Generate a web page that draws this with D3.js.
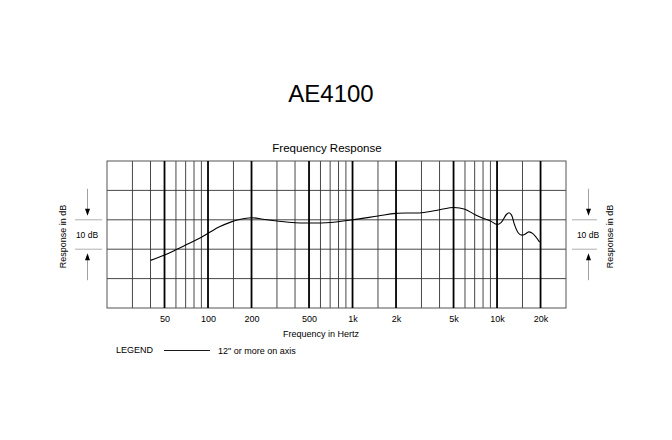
<html>
<head>
<title>AE4100 - frequency response</title>
<style type="text/css">
* {
  margin: 0;
  padding: 0;
}
body {
  background: #fff;
  font-family: "Liberation Sans", Arial, sans-serif;
}
text {
  fill: #000;
}
text.small {
  font-size: 9px;
}
</style>
<script type="text/javascript" src="https://cdn.jsdelivr.net/npm/d3@7"></script>
<script type="text/javascript">
// response curve, Hz / dB (0 dB = 1 kHz)
var freqs = [40, 50, 60, 70, 80, 90, 100, 120, 145, 165, 200, 240, 300, 400, 500, 700,
  1000, 1500, 2000, 3000, 4000, 5000, 6000, 7000, 8000, 9000, 10000, 10700, 11600, 12100,
  12600, 13200, 14000, 14700, 15500, 16600, 17700, 19700];
var levels = [-13.8, -12, -10.2, -8.6, -7.2, -5.9, -4.6, -2.4, -0.7, 0.1, 0.7, 0.2, -0.4, -1.0,
  -1.1, -0.9, 0, 1.3, 2.2, 2.4, 3.4, 4.2, 3.6, 1.8, 0.5, -0.4, -1.6, -0.9, 1.8, 2.4,
  1.6, -1.6, -4.4, -5.2, -5.0, -4.1, -4.7, -7.6];

// grid
var minorFreqs = [30, 40, 60, 70, 80, 90, 150, 300, 400, 600, 700, 800, 900, 1500, 3000, 4000,
  6000, 7000, 8000, 9000, 15000];
var majorFreqs = [50, 100, 200, 500, 1000, 2000, 5000, 10000, 20000];
var majorLabels = ["50", "100", "200", "500", "1k", "2k", "5k", "10k", "20k"];
var dbLines = [10, 0, -10, -20];

window.onload = function() {
  var width = 672, height = 440;
  var left = 107, right = 566, top = 161, bottom = 308;

  var svg = d3.select("#chart")
    .append("svg")
    .attr("width", width)
    .attr("height", height);

  var x = d3.scaleLog().domain([20, 30000]).range([left, right]);
  var y = d3.scaleLinear().domain([-30, 20]).range([bottom, top]);

  svg.append("text")
    .attr("x", 331)
    .attr("y", 102)
    .attr("text-anchor", "middle")
    .style("font-size", "24px")
    .text("AE4100");

  svg.append("text")
    .attr("x", 327)
    .attr("y", 152)
    .attr("text-anchor", "middle")
    .style("font-size", "11.5px")
    .text("Frequency Response");

  var grid = svg.append("g");

  grid.selectAll("line.h")
    .data(dbLines)
    .enter().append("line")
    .attr("x1", left).attr("x2", right)
    .attr("y1", function(d) { return y(d); })
    .attr("y2", function(d) { return y(d); })
    .attr("stroke", "#333")
    .attr("stroke-width", 0.9);

  grid.selectAll("line.minor")
    .data(minorFreqs)
    .enter().append("line")
    .attr("x1", function(d) { return x(d); })
    .attr("x2", function(d) { return x(d); })
    .attr("y1", top).attr("y2", bottom)
    .attr("stroke", "#333")
    .attr("stroke-width", 0.9);

  grid.append("rect")
    .attr("x", left).attr("y", top)
    .attr("width", right - left).attr("height", bottom - top)
    .attr("fill", "none")
    .attr("stroke", "#555")
    .attr("stroke-width", 1);

  grid.selectAll("line.major")
    .data(majorFreqs)
    .enter().append("line")
    .attr("x1", function(d) { return x(d); })
    .attr("x2", function(d) { return x(d); })
    .attr("y1", top).attr("y2", bottom)
    .attr("stroke", "#000")
    .attr("stroke-width", 1.8);

  // frequency labels under the major lines
  var xAxis = d3.axisBottom(x)
    .tickValues(majorFreqs)
    .tickSize(0)
    .tickPadding(8)
    .tickFormat(function(d, i) { return majorLabels[i]; });

  var axisG = svg.append("g")
    .attr("transform", "translate(0," + bottom + ")")
    .call(xAxis);
  axisG.select(".domain").remove();
  axisG.selectAll("text")
    .style("font-family", "'Liberation Sans', Arial, sans-serif")
    .style("font-size", "9px")
    .attr("fill", "#000");

  svg.append("text")
    .attr("class", "small")
    .attr("x", 321)
    .attr("y", 337)
    .attr("text-anchor", "middle")
    .text("Frequency in Hertz");

  // curve
  var line = d3.line()
    .x(function(d, i) { return x(freqs[i]); })
    .y(function(d) { return y(d); })
    .curve(d3.curveCatmullRom.alpha(0.5));

  svg.append("path")
    .attr("d", line(levels))
    .attr("fill", "none")
    .attr("stroke", "#000")
    .attr("stroke-width", 1.1);

  // "10 dB" scale markers on both sides
  function dbMarker(cx, tickX1, tickX2, labelX) {
    var g = svg.append("g");
    var yTop = y(0), yBot = y(-10);
    [yTop, yBot].forEach(function(yy) {
      g.append("line")
        .attr("x1", tickX1).attr("x2", tickX2)
        .attr("y1", yy).attr("y2", yy)
        .attr("stroke", "#999").attr("stroke-width", 0.8);
    });
    g.append("line")
      .attr("x1", cx).attr("x2", cx)
      .attr("y1", yTop - 31).attr("y2", yTop - 8)
      .attr("stroke", "#888").attr("stroke-width", 0.8);
    g.append("path")
      .attr("d", "M" + (cx - 2.5) + "," + (yTop - 11) + "L" + (cx + 2.5) + "," + (yTop - 11) + "L" + cx + "," + (yTop - 4) + "Z")
      .attr("fill", "#000");
    g.append("line")
      .attr("x1", cx).attr("x2", cx)
      .attr("y1", yBot + 8).attr("y2", yBot + 31)
      .attr("stroke", "#888").attr("stroke-width", 0.8);
    g.append("path")
      .attr("d", "M" + (cx - 2.5) + "," + (yBot + 11) + "L" + (cx + 2.5) + "," + (yBot + 11) + "L" + cx + "," + (yBot + 4) + "Z")
      .attr("fill", "#000");
    g.append("text")
      .attr("class", "small")
      .attr("x", cx - 0.5)
      .attr("y", (yTop + yBot) / 2 + 3)
      .attr("text-anchor", "middle")
      .style("font-size", "8.5px")
      .text("10 dB");
    g.append("text")
      .attr("class", "small")
      .attr("transform", "translate(" + labelX + "," + ((yTop + yBot) / 2 + 2) + ") rotate(-90)")
      .attr("text-anchor", "middle")
      .text("Response in dB");
  }
  dbMarker(87.5, 75, 102, 66);
  dbMarker(588.5, 572, 597, 613);

  // legend
  svg.append("text")
    .attr("class", "small")
    .attr("x", 116)
    .attr("y", 353)
    .text("LEGEND");
  svg.append("line")
    .attr("x1", 164).attr("x2", 210)
    .attr("y1", 350.5).attr("y2", 350.5)
    .attr("stroke", "#000").attr("stroke-width", 0.9);
  svg.append("text")
    .attr("class", "small")
    .attr("x", 218)
    .attr("y", 354)
    .text("12\" or more on axis");
};
</script>
</head>
<body>
  <div id="chart"></div>
</body>
</html>
